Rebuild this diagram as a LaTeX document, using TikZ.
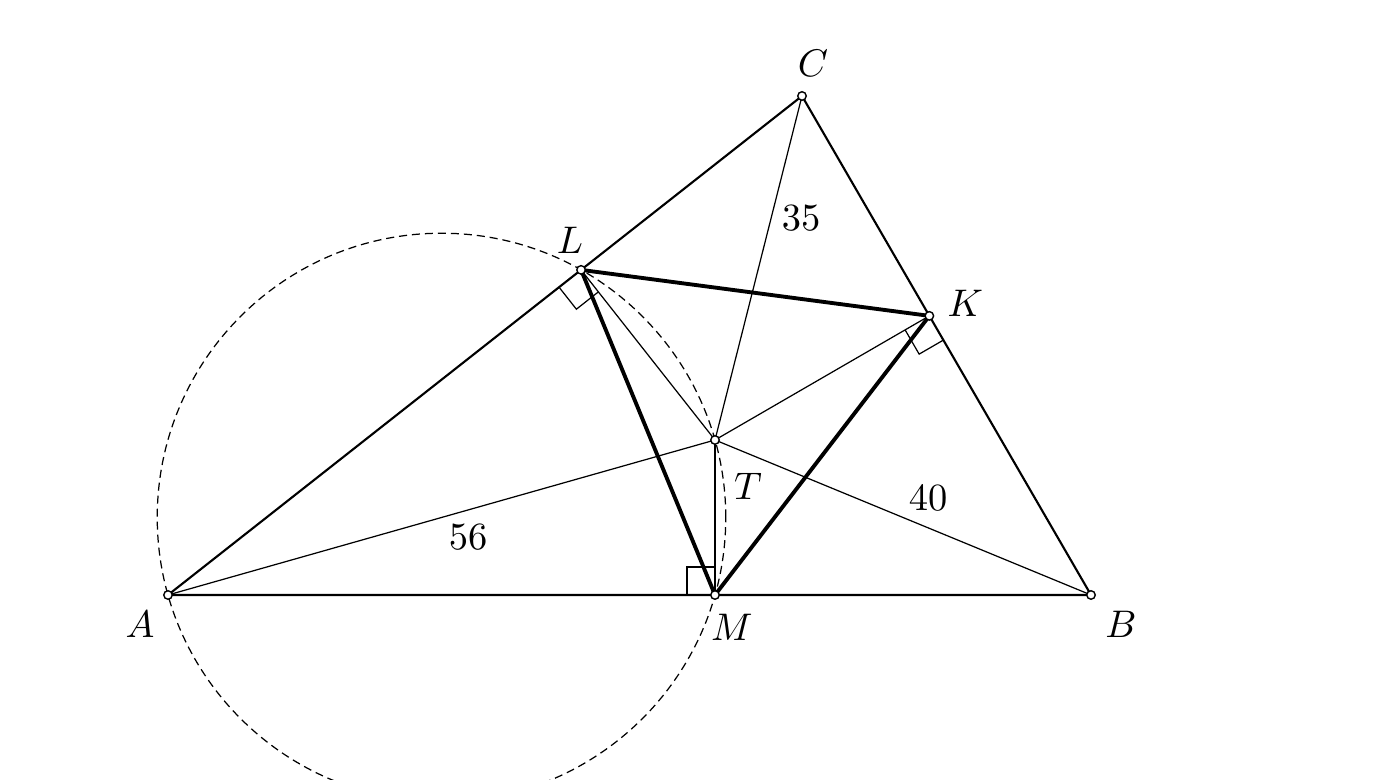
\documentclass[tikz,border=0pt]{standalone}
\usepackage{amsmath}
\usepackage{tikz}
\usetikzlibrary{calc}
\usetikzlibrary{positioning}

\tikzset{
  side/.style={line width=0.6pt},
  cevian/.style={line width=0.35pt},
  pedal/.style={line width=1.1pt},
  pt/.style={circle,draw,fill=white,inner sep=0pt,minimum size=0.085cm,line width=0.4pt},
  lbl/.style={font=\fontsize{11}{13}\selectfont,inner sep=0pt}
}

\begin{document}
\begin{tikzpicture}
      \useasboundingbox (0,0) rectangle (14,7.8);
      \clip (0,0) rectangle (14,7.8);

      \coordinate (A) at (1.68,1.85);
      \coordinate (B) at (10.91,1.85);
      \coordinate (C) at (8.02,6.84);
      \coordinate (T) at (7.15,3.40);
      % Fusspunkte der Lote von T
      \coordinate (M) at ($(A)!(T)!(B)$);
      \coordinate (L) at ($(A)!(T)!(C)$);
      \coordinate (K) at ($(B)!(T)!(C)$);

      % Kreis mit Durchmesser AT
      \draw[dash pattern=on 2.3pt off 1.4pt,line width=0.35pt]
        let \p1=($(T)-(A)$), \n1={veclen(\x1,\y1)/2} in
        ($(A)!0.5!(T)$) circle (\n1);

      \draw[side] (A) -- (B) -- (C) -- cycle;
      \foreach \p in {A,B,C,L,K,M}
        \draw[cevian] (T) -- (\p);
      \draw[pedal] (L) -- (K) -- (M) -- cycle;

      % rechte Winkel
      \foreach \p/\a/\b in {M/A/T,L/A/T,K/B/T}
        \draw[cevian] ($(\p)!0.28cm!(\a)$) -- ($(\p)!0.28cm!(\a)+(\p)!0.28cm!(\b)-(\p)$) -- ($(\p)!0.28cm!(\b)$);

      \foreach \p in {A,B,C,T,L,K,M}
        \node[pt] (p\p) at (\p) {};

      \node[lbl] (lA) at ($(A)+(-0.28,-0.29)$) {$A$};
      \node[lbl] (lB) at ($(B)+(0.30,-0.29)$) {$B$};
      \node[lbl] (lC) at ($(C)+(0.11,0.33)$) {$C$};
      \node[lbl] (lL) at ($(L)+(-0.11,0.30)$) {$L$};
      \node[lbl] (lK) at ($(K)+(0.36,0.13)$) {$K$};
      \node[lbl] (lM) at ($(M)+(0.17,-0.32)$) {$M$};
      \node[lbl] (lT) at ($(T)+(0.33,-0.46)$) {$T$};

      \node[lbl] (n56) at (4.68,2.43) {$56$};
      \node[lbl] (n40) at (9.28,2.82) {$40$};
      \node[lbl] (n35) at (8.01,5.62) {$35$};
\end{tikzpicture}
\end{document}
